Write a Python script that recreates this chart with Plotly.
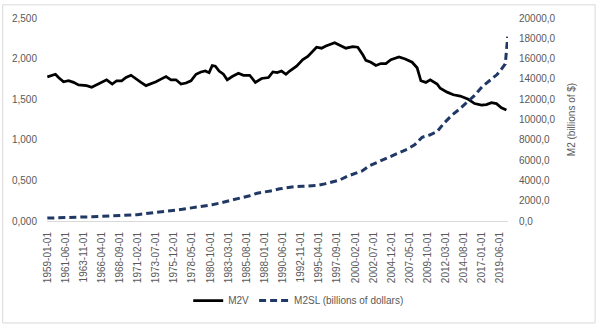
import plotly.graph_objects as go

# ---- data ----
m2v_dates = [
    "1959-01-01", "1960-02-01", "1960-07-01", "1961-03-01", "1961-11-01", "1962-07-01",
    "1963-03-01", "1963-11-01", "1964-04-01", "1964-12-01", "1965-08-01", "1966-04-01",
    "1966-12-01", "1967-09-01", "1968-04-01", "1968-12-01", "1969-07-01", "1970-03-01",
    "1970-11-01", "1971-07-01", "1972-03-01", "1972-11-01", "1973-07-01", "1974-03-01",
    "1974-11-01", "1975-07-01", "1976-03-01", "1976-11-01", "1977-07-01", "1978-03-01",
    "1978-11-01", "1979-07-01", "1980-02-01", "1980-08-01", "1981-01-01", "1981-06-01",
    "1981-12-01", "1982-07-01", "1983-01-01", "1983-09-01", "1984-07-01", "1985-03-01",
    "1986-01-01", "1986-10-01", "1987-08-01", "1988-07-01", "1989-02-01", "1989-09-01",
    "1990-04-01", "1990-11-01", "1991-05-01", "1992-04-01", "1993-02-01", "1993-10-01",
    "1994-12-01", "1995-08-01", "1996-03-01", "1997-05-01", "1998-01-01", "1998-11-01",
    "1999-10-01", "2000-06-01", "2001-02-01", "2001-07-01", "2002-03-01", "2002-11-01",
    "2003-07-01", "2004-03-01", "2004-11-01", "2005-12-01", "2006-10-01", "2007-09-01",
    "2008-05-01", "2008-11-01", "2009-07-01", "2010-02-01", "2011-01-01", "2011-06-01",
    "2012-05-01", "2013-03-01", "2014-02-01", "2015-03-01", "2016-01-01", "2016-12-01",
    "2017-08-01", "2018-04-01", "2018-12-01", "2019-08-01", "2020-04-01",
]
m2v_values = [
    1.775, 1.807, 1.767, 1.715, 1.727, 1.707,
    1.675, 1.675, 1.667, 1.647, 1.675, 1.707,
    1.739, 1.687, 1.727, 1.727, 1.767, 1.795,
    1.747, 1.707, 1.667, 1.687, 1.715, 1.747,
    1.779, 1.739, 1.739, 1.687, 1.699, 1.727,
    1.807, 1.835, 1.847, 1.827, 1.915, 1.907,
    1.847, 1.807, 1.739, 1.779, 1.819, 1.795,
    1.795, 1.707, 1.755, 1.767, 1.835, 1.827,
    1.847, 1.807, 1.847, 1.907, 1.987, 2.028,
    2.140, 2.128, 2.155, 2.196, 2.167, 2.128,
    2.148, 2.140, 2.047, 1.979, 1.955, 1.915,
    1.939, 1.939, 1.987, 2.019, 1.995, 1.955,
    1.887, 1.727, 1.707, 1.739, 1.687, 1.635,
    1.587, 1.555, 1.539, 1.499, 1.446, 1.427,
    1.434, 1.458, 1.446, 1.394, 1.367,
]

m2sl_dates = [
    "1959-01-01", "1960-01-01", "1961-01-01", "1962-01-01", "1963-01-01", "1964-01-01",
    "1965-01-01", "1966-01-01", "1967-01-01", "1968-01-01", "1969-01-01", "1970-01-01",
    "1971-01-01", "1972-01-01", "1973-01-01", "1974-01-01", "1975-01-01", "1976-01-01",
    "1977-01-01", "1978-01-01", "1979-01-01", "1980-01-01", "1981-01-01", "1982-01-01",
    "1983-01-01", "1984-01-01", "1985-01-01", "1986-01-01", "1987-01-01", "1988-01-01",
    "1989-01-01", "1990-01-01", "1991-01-01", "1992-01-01", "1993-01-01", "1994-01-01",
    "1995-01-01", "1996-01-01", "1997-01-01", "1998-01-01", "1999-01-01", "2000-01-01",
    "2001-01-01", "2002-01-01", "2003-01-01", "2004-01-01", "2005-01-01", "2006-01-01",
    "2007-01-01", "2008-01-01", "2009-01-01", "2010-01-01", "2011-01-01", "2012-01-01",
    "2013-01-01", "2014-01-01", "2015-01-01", "2016-01-01", "2017-01-01", "2018-01-01",
    "2019-01-01", "2019-07-01", "2020-01-01", "2020-02-01", "2020-03-01", "2020-04-01",
    "2020-05-01", "2020-06-01",
]
m2sl_values = [
    286, 298, 313, 334, 360, 389,
    419, 452, 475, 525, 567, 588,
    627, 712, 800, 858, 911, 1027,
    1153, 1268, 1366, 1476, 1600, 1763,
    1937, 2126, 2316, 2494, 2736, 2840,
    2993, 3167, 3290, 3380, 3420, 3490,
    3500, 3655, 3830, 4040, 4400, 4660,
    4940, 5460, 5780, 6080, 6420, 6680,
    7070, 7500, 8250, 8470, 8810, 9700,
    10450, 11030, 11690, 12380, 13230, 13850,
    14430, 14870, 15430, 15470, 16020, 16910,
    17800, 18160,
]

tick_dates = [
    "1959-01-01", "1961-06-01", "1963-11-01", "1966-04-01", "1968-09-01", "1971-02-01",
    "1973-07-01", "1975-12-01", "1978-05-01", "1980-10-01", "1983-03-01", "1985-08-01",
    "1988-01-01", "1990-06-01", "1992-11-01", "1995-04-01", "1997-09-01", "2000-02-01",
    "2002-07-01", "2004-12-01", "2007-05-01", "2009-10-01", "2012-03-01", "2014-08-01",
    "2017-01-01", "2019-06-01",
]

grey = "#595959"
font = dict(family="Liberation Sans, Arial, sans-serif", size=10, color=grey)

fig = go.Figure()
fig.add_trace(go.Scatter(
    x=m2v_dates, y=m2v_values, name="M2V", mode="lines",
    line=dict(color="#000000", width=2.75), yaxis="y",
))
fig.add_trace(go.Scatter(
    x=m2sl_dates, y=m2sl_values, name="M2SL (billions of dollars)", mode="lines",
    line=dict(color="#203864", width=3, dash="7px,4px"), yaxis="y2",
))

fig.update_layout(
    width=596, height=327,
    margin=dict(l=45, r=88, t=14, b=105),
    paper_bgcolor="white", plot_bgcolor="white",
    font=font,
    separators=",.",
    showlegend=True,
    legend=dict(orientation="h", x=0.546, xanchor="center", y=-0.392, yanchor="middle",
                font=font, bgcolor="rgba(0,0,0,0)", itemwidth=30, tracegroupgap=0),
    xaxis=dict(
        type="date", range=["1958-12-16", "2020-06-16"],
        tickmode="array", tickvals=tick_dates, ticktext=tick_dates,
        tickangle=-90, showgrid=False, zeroline=False,
        showline=True, linecolor="#d9d9d9", linewidth=1,
        ticks="outside", ticklen=6, tickcolor="rgba(0,0,0,0)",
        tickfont=font,
    ),
    yaxis=dict(
        range=[0, 2.5], dtick=0.5, tickformat=".3f",
        showgrid=False, zeroline=False, showline=False,
        ticks="outside", ticklen=7, tickcolor="rgba(0,0,0,0)",
        tickfont=font,
    ),
    yaxis2=dict(
        range=[0, 20000], dtick=2000, tickformat=".1f",
        overlaying="y", side="right",
        showgrid=False, zeroline=False, showline=False,
        ticks="outside", ticklen=8, tickcolor="rgba(0,0,0,0)",
        tickfont=font,
        title=dict(text="M2 (billions of $)", font=font, standoff=13),
    ),
    shapes=[dict(type="rect", xref="paper", yref="paper",
                 x0=-45 / 463 + 0.5 / 463, x1=1 + 87.5 / 463,
                 y0=-104.5 / 208, y1=1 + 13.5 / 208,
                 line=dict(color="#d9d9d9", width=1), fillcolor="rgba(0,0,0,0)", layer="below")],
)

fig.write_html("out.html")
